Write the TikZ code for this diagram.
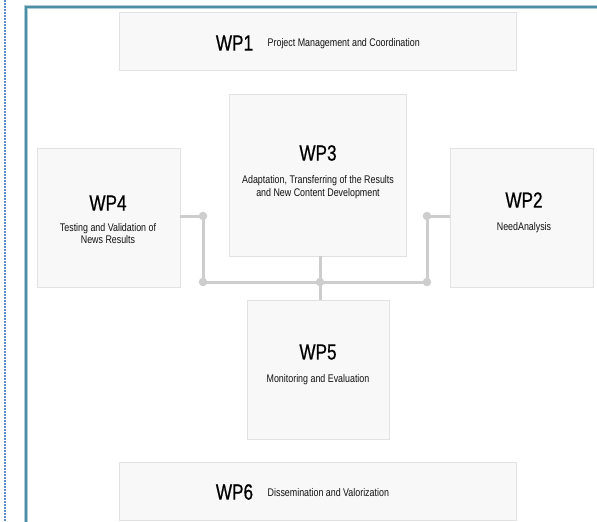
\documentclass[tikz,border=0pt]{standalone}
\usepackage{fontspec}
\setmainfont{Liberation Sans}[FakeStretch=0.8]
\newfontfamily\titlefont{Liberation Sans}[FakeStretch=0.78, FakeBold=0.6]
\definecolor{framecol}{HTML}{4A8FA3}
\definecolor{dotcol}{HTML}{5B8BD0}
\definecolor{boxfill}{HTML}{F8F8F8}
\definecolor{boxline}{HTML}{E2E2E2}
\definecolor{linkcol}{HTML}{CDCDCD}
\definecolor{txtcol}{HTML}{111111}
\tikzset{
  wpbox/.style={rectangle, fill=boxfill, draw=boxline, line width=0.9, inner sep=0},
  wptitle/.style={inner sep=0, text=black, font=\titlefont\fontsize{22}{24}\selectfont},
  wpdesc/.style={inner sep=0, text=txtcol, align=center, font=\fontsize{11.1}{12.5}\selectfont},
  link/.style={draw=linkcol, line width=3},
  joint/.style={circle, fill=linkcol, inner sep=0, minimum size=8.5}
}
\begin{document}
\begin{tikzpicture}[x=1pt,y=-1pt]
\useasboundingbox (0,0) rectangle (597,522);
\fill[white] (0,0) rectangle (597,522);
% page decorations
\draw[dotcol, line width=1.6, dash pattern=on 1.6 off 1.4] (5,0) -- (5,522);
\draw[framecol!45, line width=3.2] (26,522) -- (26,7) -- (598,7);
\draw[framecol, line width=1.8] (26,522) -- (26,7) -- (598,7);
% boxes
\node[wpbox, minimum width=397, minimum height=58] (wp1) at (317.5,41) {};
\node[wpbox, minimum width=177, minimum height=162] (wp3) at (317.5,175) {};
\node[wpbox, minimum width=143, minimum height=139] (wp4) at (108.5,217.5) {};
\node[wpbox, minimum width=143, minimum height=139] (wp2) at (521.5,217.5) {};
\node[wpbox, minimum width=142, minimum height=139] (wp5) at (318,369.5) {};
\node[wpbox, minimum width=397, minimum height=58] (wp6) at (317.5,491) {};
% texts
\node[wptitle] (t1) at (234.5,43) {WP1};
\node[wpdesc, anchor=west] (d1) at (267.5,44) {Project Management and Coordination};
\node[wptitle] (t3) at (318,153) {WP3};
\node[wpdesc] (d3) at (318,187) {Adaptation, Transferring of the Results\\and New Content Development};
\node[wptitle] (t4) at (108,203) {WP4};
\node[wpdesc] (d4) at (108,233.5) {Testing and Validation of\\News Results};
\node[wptitle] (t2) at (524,200) {WP2};
\node[wpdesc] (d2) at (524,228) {NeedAnalysis};
\node[wptitle] (t5) at (318,352) {WP5};
\node[wpdesc] (d5) at (318,380) {Monitoring and Evaluation};
\node[wptitle] (t6) at (234.5,492) {WP6};
\node[wpdesc, anchor=west] (d6) at (267.5,493) {Dissemination and Valorization};
% connectors
\coordinate (j1) at (203,216);
\coordinate (j2) at (203,282);
\coordinate (j3) at (320,282);
\coordinate (j4) at (427,216);
\coordinate (j5) at (427,282);
\draw[link] (wp4.east |- j1) -- (j1) -- (j2) -- (j5) -- (j4) -- (wp2.west |- j4);
\draw[link] (j3 |- wp3.south) -- (j3 |- wp5.north);
\foreach \j in {j1,j2,j3,j4,j5} \node[joint] at (\j) {};
\end{tikzpicture}
\end{document}
